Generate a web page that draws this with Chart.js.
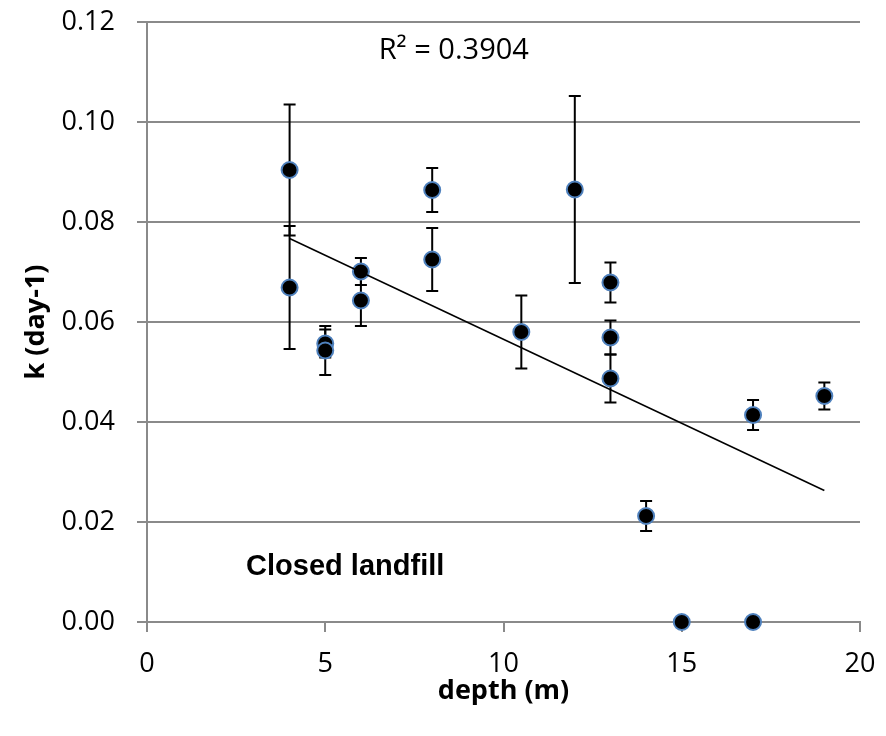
<!DOCTYPE html>
<html>
<head>
<meta charset="utf-8">
<script src="https://cdn.jsdelivr.net/npm/chart.js@4.4.1/dist/chart.umd.min.js"></script>
<style>
  html, body { margin: 0; padding: 0; background: #fff; }
  #wrap { width: 886px; height: 736px; position: relative; }
</style>
</head>
<body>
<div id="wrap"><canvas id="kChart"></canvas></div>
<script>
// depth (m) and decay rate k (day-1), with symmetric error bars
const depth = [4, 4, 5, 5, 6, 6, 8, 8, 10.5, 12, 13, 13, 13, 14, 15, 17, 17, 19];
const kValues = [0.0904, 0.0669, 0.0557, 0.0543, 0.0701, 0.0643, 0.0864, 0.0725, 0.0580, 0.0865, 0.0679, 0.0569, 0.0487, 0.0212, 0, 0.0414, 0, 0.0452];
const kErrors = [0.0131, 0.0123, 0.0028, 0.0049, 0.0027, 0.0051, 0.0044, 0.0063, 0.0073, 0.0187, 0.0040, 0.0034, 0.0048, 0.0030, 0, 0.0030, 0, 0.0027];

// linear trendline end points as shown
const trendX = [4, 19];
const trendY = [0.0767, 0.0263];

const xTicks = [0, 5, 10, 15, 20];
const yTicks = [0, 0.02, 0.04, 0.06, 0.08, 0.10, 0.12];

const rSquaredLabel = 'R\u00b2 = 0.3904';
const siteLabel = 'Closed landfill';

const gridColor = '#8a8a8a';

// error bars drawn under the markers
const errorBars = {
    id: 'errorBars',
    beforeDatasetsDraw(chart) {
        const { ctx, scales: { x, y } } = chart;
        ctx.save();
        ctx.strokeStyle = '#000';
        ctx.lineWidth = 2;
        depth.forEach((d, i) => {
            if (!kErrors[i]) return;
            const px = x.getPixelForValue(d);
            const top = y.getPixelForValue(kValues[i] + kErrors[i]);
            const bot = y.getPixelForValue(kValues[i] - kErrors[i]);
            ctx.beginPath();
            ctx.moveTo(px, top); ctx.lineTo(px, bot);
            ctx.moveTo(px - 6, top); ctx.lineTo(px + 6, top);
            ctx.moveTo(px - 6, bot); ctx.lineTo(px + 6, bot);
            ctx.stroke();
        });
        ctx.restore();
    }
};

// R² and site label
const chartLabels = {
    id: 'chartLabels',
    afterDraw(chart) {
        const { ctx, scales: { x, y } } = chart;
        ctx.save();
        ctx.fillStyle = '#000';
        ctx.textBaseline = 'middle';
        ctx.textAlign = 'left';
        ctx.font = "29px 'Open Sans'";
        ctx.fillText(rSquaredLabel, x.getPixelForValue(6.5), y.getPixelForValue(0.1143));
        ctx.textAlign = 'center';
        ctx.font = "bold 29px 'Liberation Sans', Arial, sans-serif";
        ctx.fillText(siteLabel, x.getPixelForValue(5.56), y.getPixelForValue(0.011));
        ctx.restore();
    }
};

// drop the label overflow padding so layout.padding alone sets the plot edges
function noLabelPadding(axis) {
    axis.paddingTop = 0;
    axis.paddingBottom = 0;
    axis.paddingLeft = 0;
    axis.paddingRight = 0;
}

const ctx = document.getElementById('kChart').getContext('2d');
new Chart(ctx, {
    type: 'scatter',
    data: {
        datasets: [
            {
                label: 'trend',
                type: 'line',
                data: trendX.map((v, i) => ({ x: v, y: trendY[i] })),
                borderColor: '#000',
                borderWidth: 1.5,
                pointRadius: 0,
                fill: false,
                order: 0
            },
            {
                label: 'k',
                data: depth.map((d, i) => ({ x: d, y: kValues[i] })),
                backgroundColor: '#000',
                borderColor: '#4f81bd',
                borderWidth: 2,
                pointRadius: 8,
                pointHoverRadius: 8,
                clip: false,
                order: 1
            }
        ]
    },
    options: {
        responsive: true,
        maintainAspectRatio: false,
        animation: false,
        layout: { padding: { left: 0, right: 26, top: 22, bottom: 0 } },
        plugins: {
            legend: { display: false },
            tooltip: { enabled: false }
        },
        scales: {
            x: {
                type: 'linear',
                min: 0,
                max: 20,
                afterBuildTicks: (axis) => { axis.ticks = xTicks.map(v => ({ value: v })); },
                afterFit: (axis) => { axis.height = 114; noLabelPadding(axis); },
                ticks: {
                    color: '#000',
                    font: { family: "'Open Sans'", size: 27 },
                    padding: 16,
                    maxRotation: 0
                },
                grid: { drawOnChartArea: false, color: gridColor, lineWidth: 2, tickLength: 10 },
                border: { color: gridColor, width: 2 },
                title: {
                    display: true,
                    text: 'depth (m)',
                    color: '#000',
                    font: { family: "'Open Sans'", size: 27, weight: 'bold' },
                    padding: { top: 0, bottom: 28 }
                }
            },
            y: {
                type: 'linear',
                min: 0,
                max: 0.12,
                afterBuildTicks: (axis) => { axis.ticks = yTicks.map(v => ({ value: v })); },
                afterFit: (axis) => { axis.width = 147; noLabelPadding(axis); },
                ticks: {
                    color: '#000',
                    font: { family: "'Open Sans'", size: 27 },
                    padding: 22,
                    callback: (v) => v.toFixed(2)
                },
                grid: { color: gridColor, lineWidth: 2, tickLength: 10 },
                border: { color: gridColor, width: 2 },
                title: {
                    display: true,
                    text: 'k (day-1)',
                    color: '#000',
                    font: { family: "'Open Sans'", size: 27, weight: 'bold' },
                    padding: { top: 20, bottom: 0 }
                }
            }
        }
    },
    plugins: [errorBars, chartLabels]
});
</script>
</body>
</html>
